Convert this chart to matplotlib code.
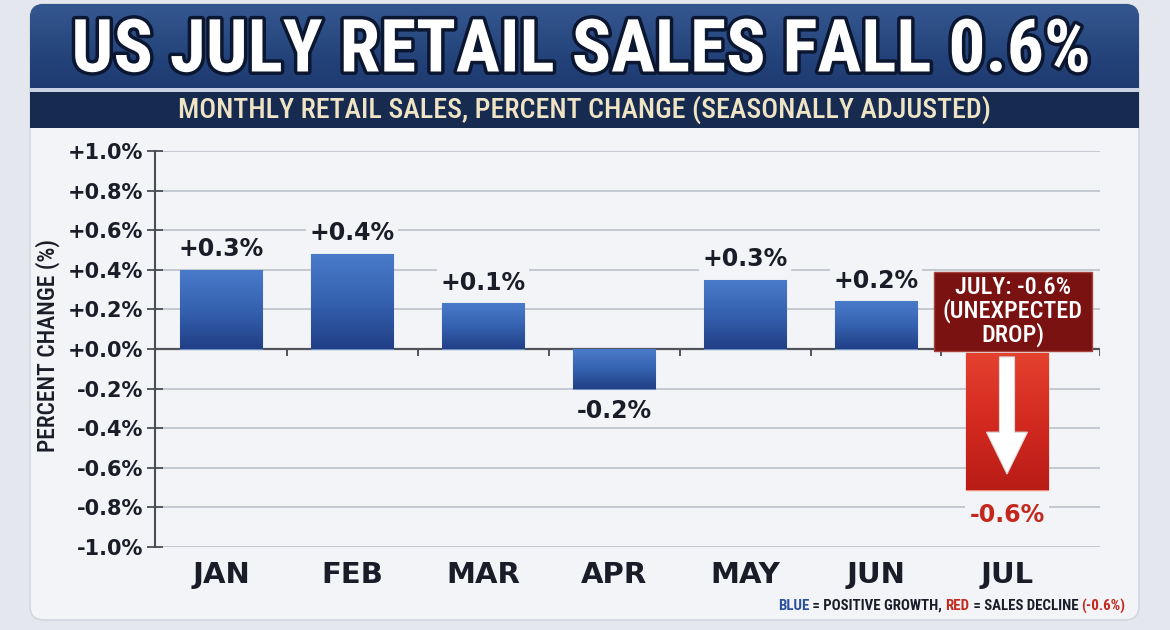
import numpy as np
import matplotlib
matplotlib.use('Agg')
import matplotlib.pyplot as plt
import matplotlib.patheffects as pe
from matplotlib.patches import FancyBboxPatch, Rectangle, FancyArrow
from matplotlib.colors import LinearSegmentedColormap

# data
months = ['JAN', 'FEB', 'MAR', 'APR', 'MAY', 'JUN', 'JUL']
bar_heights = [0.40, 0.48, 0.23, -0.20, 0.35, 0.24, -0.71]   # as drawn
value_labels = ['+0.3%', '+0.4%', '+0.1%', '-0.2%', '+0.3%', '+0.2%', '-0.6%']
y_ticks = [-1.0, -0.8, -0.6, -0.4, -0.2, 0.0, 0.2, 0.4, 0.6, 0.8, 1.0]
y_tick_labels = ['-1.0%', '-0.8%', '-0.6%', '-0.4%', '-0.2%', '+0.0%',
                 '+0.2%', '+0.4%', '+0.6%', '+0.8%', '+1.0%']

title = 'US JULY RETAIL SALES FALL 0.6%'
subtitle = 'MONTHLY RETAIL SALES, PERCENT CHANGE (SEASONALLY ADJUSTED)'
y_label = 'PERCENT CHANGE (%)'
callout = 'JULY: -0.6%\n(UNEXPECTED\nDROP)'

DARK = '#1a1d28'
BLUE_TXT = '#2b519c'
RED_TXT = '#c4281d'
PANEL = '#f2f4f8'
legend_parts = [('BLUE', BLUE_TXT), (' = POSITIVE GROWTH, ', DARK),
                ('RED', RED_TXT), (' = SALES DECLINE ', DARK), ('(-0.6%)', RED_TXT)]

COND = ['Roboto Condensed', 'Liberation Sans Narrow', 'DejaVu Sans']

fig = plt.figure(figsize=(11.7, 6.3), dpi=100)
fig.patch.set_facecolor('#e4e8ee')
renderer = fig.canvas.get_renderer()


def fit_width(t, width_px, max_size=None):
    w = t.get_window_extent(renderer).width
    size = t.get_fontsize() * width_px / w
    if max_size is not None:
        size = min(size, max_size)
    t.set_fontsize(size)


def gradient_fill(axis, patch, cmap, extent):
    grad = np.linspace(0, 1, 200).reshape(-1, 1)
    im = axis.imshow(grad, extent=extent, cmap=cmap, aspect='auto',
                     zorder=patch.get_zorder() + 0.01, interpolation='bicubic')
    im.set_clip_path(patch)
    return im


# background layer in pixel coordinates
bg = fig.add_axes([0, 0, 1, 1], zorder=0)
bg.set_xlim(0, 1170)
bg.set_ylim(630, 0)
bg.axis('off')

panel = FancyBboxPatch((30, 4), 1109, 616, boxstyle='round,pad=0,rounding_size=14',
                       fc=PANEL, ec='#d2d7df', lw=1.2, zorder=1)
bg.add_patch(panel)

banner = FancyBboxPatch((30, 4), 1109, 110, boxstyle='round,pad=0,rounding_size=14',
                        fc='#23427a', ec='none', zorder=2)
bg.add_patch(banner)
banner_cmap = LinearSegmentedColormap.from_list('banner', ['#35578f', '#23427a', '#1b3567'])
gradient_fill(bg, banner, banner_cmap, [30, 1139, 114, 4])
bg.add_patch(Rectangle((30, 88), 1109, 4, fc='#c8d2e2', ec='none', zorder=3))
bg.add_patch(Rectangle((30, 92), 1109, 36, fc='#172a50', ec='none', zorder=3))
bg.set_xlim(0, 1170)
bg.set_ylim(630, 0)

t_title = bg.text(580, 52, title, ha='center', va='center', color='white',
                  fontweight='bold', family=COND, fontsize=50, zorder=5,
                  path_effects=[pe.withStroke(linewidth=5, foreground='#0b1630')])
fit_width(t_title, 1020, max_size=62)

t_sub = bg.text(584, 110, subtitle, ha='center', va='center', color='#efe4c4',
                fontweight='medium', family=COND, fontsize=18, zorder=5)
fit_width(t_sub, 812, max_size=22)

t_y = bg.text(48, 346, y_label, ha='center', va='center', rotation=90,
              color=DARK, fontweight='medium', family=COND, fontsize=14, zorder=5)
rot_len = t_y.get_window_extent(renderer).height
t_y.set_fontsize(min(t_y.get_fontsize() * 234 / rot_len, 17))

# bottom legend line, laid out piece by piece
leg_size = 10
for step in range(2):
    xpos = 778
    pieces = []
    for txt, col in legend_parts:
        t = bg.text(xpos, 606, txt, ha='left', va='center', color=col,
                    fontweight='bold', family=COND, fontsize=leg_size, zorder=5)
        xpos += t.get_window_extent(renderer).width
        pieces.append(t)
    if step == 0:
        for t in pieces:
            t.remove()
        leg_size = leg_size * 347 / (xpos - 778)

# main chart
ax = fig.add_axes([155 / 1170, (630 - 547) / 630, 945 / 1170, 396 / 630], zorder=2)
ax.set_facecolor('none')
x = np.arange(len(months))

blue_cmap = LinearSegmentedColormap.from_list('blue', ['#4a7bcb', '#3562b0', '#213f86'])
red_cmap = LinearSegmentedColormap.from_list('red', ['#e4412f', '#d32a20', '#b81c16'])

for i in range(len(months) - 1):
    b = ax.bar(x[i], bar_heights[i], width=0.63, color='#2f5cab',
               edgecolor='#7090c8', linewidth=0.8, zorder=3)[0]
    y0, y1 = sorted([0, bar_heights[i]])
    gradient_fill(ax, b, blue_cmap, [x[i] - 0.315, x[i] + 0.315, y0, y1])
    off = 15 if bar_heights[i] >= 0 else -16
    ax.annotate(value_labels[i], (x[i], bar_heights[i]), xytext=(0, off),
                textcoords='offset points', ha='center', va='center',
                fontsize=17, fontweight='bold', color=DARK, zorder=4,
                bbox=dict(boxstyle='square,pad=0.15', fc=PANEL, ec='none'))

# July: red bar with arrow and call-out box
j = len(months) - 1
gap = -0.02
rb = ax.bar(x[j], bar_heights[j] - gap, bottom=gap, width=0.63, color='#d32a20',
            edgecolor='#f08a7a', linewidth=1, zorder=3)[0]
gradient_fill(ax, rb, red_cmap, [x[j] - 0.315, x[j] + 0.315, bar_heights[j], gap])
ax.add_patch(FancyArrow(x[j], gap - 0.02, 0, bar_heights[j] * 0.89 - gap + 0.02,
                        width=0.115, head_width=0.313, head_length=0.212,
                        length_includes_head=True, fc='white', ec='#d8d8d8',
                        lw=0.8, zorder=5))
ax.annotate(value_labels[j], (x[j], bar_heights[j]), xytext=(0, -18),
            textcoords='offset points', ha='center', va='center',
            fontsize=17, fontweight='bold', color=RED_TXT, zorder=4,
            bbox=dict(boxstyle='square,pad=0.2', fc=PANEL, ec='none'))
ax.add_patch(Rectangle((x[j] - 0.56, -0.01), 1.21, 0.40, fc='#7a1212',
                       ec='#a5423a', lw=1, zorder=6))
ax.text(x[j] + 0.045, 0.19, callout, ha='center', va='center', color='white',
        fontweight='medium', family=COND, fontsize=17.5, linespacing=0.95, zorder=7)

# axes styling
ax.set_xlim(-0.504, 6.71)
ax.set_ylim(-1.0, 1.0)
ax.set_yticks(y_ticks, y_tick_labels)
ax.set_xticks(x, months)
ax.grid(axis='y', color='#c3c8d1', linewidth=1.4, zorder=0)
ax.axhline(0, color='#50535b', linewidth=1.6, zorder=2.5)
ax.vlines(np.append(x[:-1] + 0.5, 6.71), -0.035, 0, color='#50535b', linewidth=1.4, zorder=2.5)
for s in ['top', 'right', 'bottom']:
    ax.spines[s].set_visible(False)
ax.spines['left'].set_color('#4a4d55')
ax.spines['left'].set_linewidth(1.5)
ax.tick_params(axis='y', direction='inout', length=11.5, width=1.3, color='#4a4d55',
               pad=3, labelsize=15, labelcolor=DARK)
ax.tick_params(axis='x', length=0, pad=10, labelsize=21, labelcolor=DARK)
for lab in ax.get_yticklabels() + ax.get_xticklabels():
    lab.set_fontweight('bold')

fig.savefig('out.png', dpi=100, facecolor=fig.get_facecolor())
